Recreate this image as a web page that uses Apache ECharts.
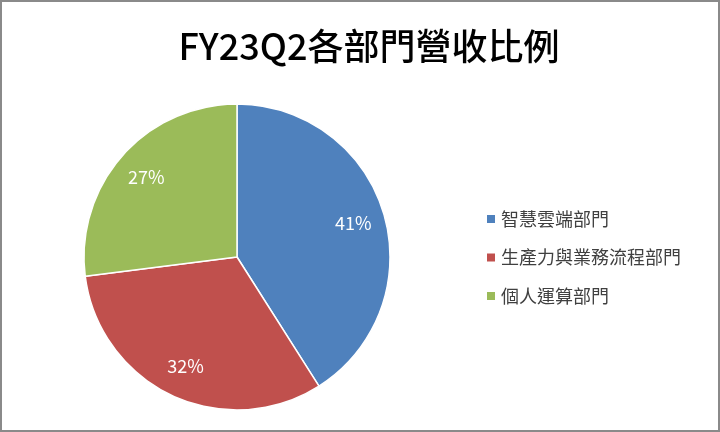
<!DOCTYPE html>
<html>
<head>
<meta charset="utf-8">
<script src="https://cdn.jsdelivr.net/npm/echarts@6/dist/echarts.min.js"></script>
<style>
    html, body { margin: 0; padding: 0; background: #fff; }
    #chart {
        width: 716px; height: 428px;
        border: 2px solid #8a8a8a;
    }
</style>
</head>
<body>
<div id="chart"></div>
<script>
// 圖表資料
var titleText = 'FY23Q2各部門營收比例';
var categories = ['智慧雲端部門', '生產力與業務流程部門', '個人運算部門'];
var shares = [41, 32, 27];
var colors = ['#4F81BD', '#C0504D', '#9BBB59'];

window.onload = function () {
    initChart();
}

function initChart() {
    var chart = echarts.init(document.getElementById('chart'));
    var pieData = categories.map(function (name, i) {
        return { name: name, value: shares[i], itemStyle: { color: colors[i] } };
    });
    // 透明環，只用來把百分比標籤放在靠外的位置
    var labelData = categories.map(function (name, i) {
        return { name: name, value: shares[i] };
    });
    var font = '"Noto Sans CJK TC", "Noto Sans", sans-serif';

    chart.setOption({
        animation: false,
        title: {
            text: titleText,
            left: 362,
            top: 21,
            textAlign: 'center',
            textStyle: { fontFamily: font, fontSize: 36, fontWeight: 500, color: '#000' }
        },
        legend: {
            orient: 'vertical',
            left: 483,
            top: 207,
            padding: 0,
            data: categories,
            icon: 'rect',
            itemWidth: 10,
            itemHeight: 10,
            itemGap: 18.5,
            textStyle: { fontFamily: font, fontSize: 18, color: '#404040', lineHeight: 20 }
        },
        series: [{
            type: 'pie',
            center: [235, 255],
            radius: 153,
            startAngle: 90,
            clockwise: true,
            silent: true,
            itemStyle: { borderColor: '#fff', borderWidth: 1.5 },
            label: { show: false },
            labelLine: { show: false },
            data: pieData
        }, {
            type: 'pie',
            center: [235, 255],
            radius: [83, 153],
            startAngle: 90,
            clockwise: true,
            silent: true,
            itemStyle: { color: 'rgba(0,0,0,0)' },
            label: {
                show: true,
                position: 'inside',
                formatter: '{c}%',
                fontFamily: font,
                fontSize: 18,
                color: '#fff'
            },
            labelLine: { show: false },
            data: labelData
        }]
    });
}
</script>
</body>
</html>
